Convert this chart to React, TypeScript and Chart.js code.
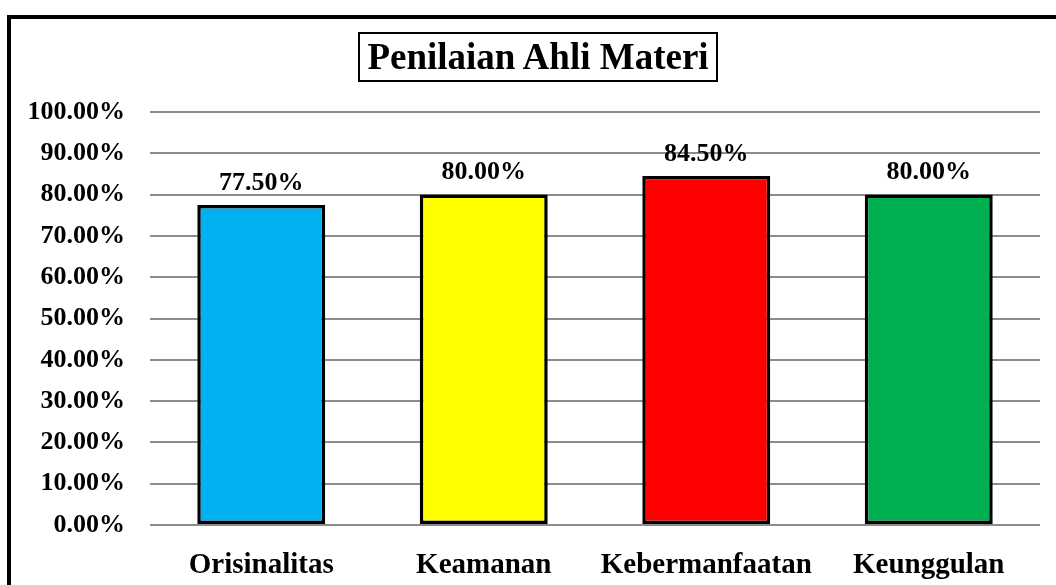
import React, { useEffect, useRef } from "react";
import { Chart, registerables } from "chart.js";

Chart.register(...registerables);

const categories = ["Orisinalitas", "Keamanan", "Kebermanfaatan", "Keunggulan"];
const values = [77.5, 80.0, 84.5, 80.0];
const barColors = ["#00B0F0", "#FFFF00", "#FF0000", "#00B050"];
const yTicks = [0, 10, 20, 30, 40, 50, 60, 70, 80, 90, 100];
const titleText = "Penilaian Ahli Materi";

const FONT = "'Liberation Serif', 'Times New Roman', serif";

const valueLabelPlugin = {
  id: "valueLabels",
  afterDatasetsDraw(chart: any) {
    const ctx = chart.ctx;
    const meta = chart.getDatasetMeta(0);
    ctx.save();
    ctx.font = `bold 26px ${FONT}`;
    ctx.fillStyle = "#000";
    ctx.textAlign = "center";
    ctx.textBaseline = "bottom";
    meta.data.forEach((bar: any, i: number) => {
      ctx.fillText(values[i].toFixed(2) + "%", bar.x, bar.y - 9);
    });
    ctx.restore();
  },
};

export default function App() {
  const ref = useRef<HTMLCanvasElement>(null);
  useEffect(() => {
    if (!ref.current) return;
    const chart = new Chart(ref.current, {
      type: "bar",
      data: {
        labels: categories,
        datasets: [
          {
            data: values,
            backgroundColor: barColors,
            borderColor: "#000",
            borderWidth: 3.5,
            borderSkipped: false,
            barPercentage: 0.575,
            categoryPercentage: 1,
          },
        ],
      },
      options: {
        animation: false,
        responsive: false,
        maintainAspectRatio: false,
        layout: { padding: { left: 0, right: 16, top: 112, bottom: 0 } },
        plugins: {
          legend: { display: false },
          title: { display: false },
          tooltip: { enabled: false },
        },
        scales: {
          x: {
            grid: { display: false },
            border: { display: false },
            ticks: {
              color: "#000",
              font: { family: FONT, size: 29, weight: "bold" },
              padding: 15,
              maxRotation: 0,
            },
            afterFit(scale: any) {
              scale.height = 60;
            },
          },
          y: {
            min: 0,
            max: 100,
            afterBuildTicks(scale: any) {
              scale.ticks = yTicks.map((v) => ({ value: v }));
            },
            grid: { color: "#8c8c8c", lineWidth: 2, drawTicks: false },
            border: { display: false },
            ticks: {
              color: "#000",
              font: { family: FONT, size: 26, weight: "bold" },
              padding: 25,
              callback: (v: any) => Number(v).toFixed(2) + "%",
            },
            afterFit(scale: any) {
              scale.width = 150;
            },
          },
        },
      },
      plugins: [valueLabelPlugin],
    });
    return () => chart.destroy();
  }, []);

  return (
    <div style={{ position: "fixed", left: 0, top: 0, width: 1056, height: 585, background: "#fff", overflow: "hidden" }}>
      <canvas ref={ref} width={1056} height={585} style={{ position: "absolute", left: 0, top: 0 }} />
      <div
        style={{
          position: "absolute",
          left: 7,
          top: 15,
          width: 1100,
          height: 700,
          borderTop: "4px solid #000",
          borderLeft: "4px solid #000",
          pointerEvents: "none",
        }}
      />
      <div
        style={{
          position: "absolute",
          left: 358,
          top: 32,
          width: 356,
          height: 46,
          border: "2px solid #000",
          fontFamily: FONT,
          fontWeight: "bold",
          fontSize: 37,
          lineHeight: "46px",
          textAlign: "center",
          color: "#000",
          whiteSpace: "nowrap",
        }}
      >
        {titleText}
      </div>
    </div>
  );
}
